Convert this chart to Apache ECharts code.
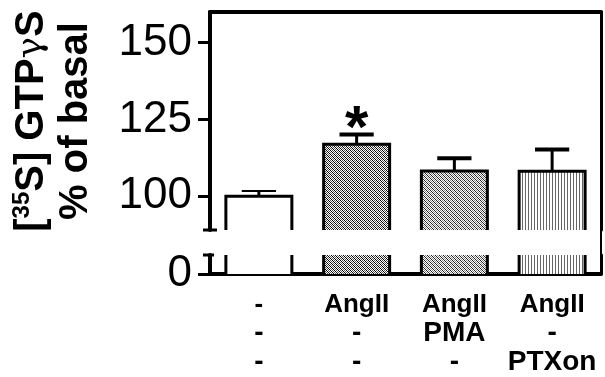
<!DOCTYPE html>
<html>
<head>
<meta charset="utf-8">
<script src="https://cdn.jsdelivr.net/npm/echarts@6/dist/echarts.min.js"></script>
<style>
  html, body { margin: 0; padding: 0; background: #fff; }
  #gtp-graph { width: 605px; height: 377px; }
</style>
</head>
<body>
<div id="gtp-graph"></div>
<script>
  // data
  const categories = ['-\n-\n-', 'AngII\n-\n-', 'AngII\nPMA\n-', 'AngII\n-\nPTXon'];
  const means = [100, 116.9, 108.2, 108.1];
  const errors = [1.7, 3.2, 4.2, 7.1];
  const marks = ['', '*', '', ''];
  const upperTicks = [100, 125, 150];
  const lowerTicks = [0];

  // layout of the broken axis
  const GRID_LEFT = 210, GRID_RIGHT = 4;
  const UPPER_TOP = 12, UPPER_H = 218, UPPER_MIN = 89, UPPER_MAX = 160;
  const LOWER_TOP = 255, LOWER_H = 19, LOWER_MAX = 6.2;
  const FONT = 'Liberation Sans, Arial, sans-serif';

  function makePattern(rows, palette) {
    const c = document.createElement('canvas');
    c.width = rows[0].length;
    c.height = rows.length;
    const ctx = c.getContext('2d');
    rows.forEach((row, y) => {
      for (let x = 0; x < row.length; x++) {
        ctx.fillStyle = palette[row[x]];
        ctx.fillRect(x, y, 1, 1);
      }
    });
    return { image: c, repeat: 'repeat' };
  }

  const diagRows = ['BWGW', 'WBWG', 'GWBW', 'WGWB'];
  const fills = [
    '#ffffff',
    makePattern(diagRows, { B: '#000', G: '#555', W: '#fff' }),
    makePattern(diagRows, { B: '#222', G: '#888', W: '#fff' }),
    makePattern(['GWW'], { G: '#666', W: '#fff' })
  ];
  const errWidths = [2, 4, 4, 4];

  const chart = echarts.init(document.getElementById('gtp-graph'));

  function renderBar(params, api) {
    const i = api.value(0);
    const top = api.coord([i, api.value(1)]);
    const base = api.coord([i, 0]);
    const w = api.size([1, 0])[0] * 0.675;
    const x0 = top[0] - w / 2, x1 = top[0] + w / 2;
    return {
      type: 'group',
      children: [{
        type: 'rect',
        shape: { x: x0, y: top[1], width: w, height: base[1] - top[1] },
        style: { fill: fills[i] }
      }, {
        type: 'polyline',
        shape: { points: [[x0, base[1]], [x0, top[1]], [x1, top[1]], [x1, base[1]]] },
        style: { fill: null, stroke: '#000', lineWidth: 3 }
      }]
    };
  }

  function renderErr(params, api) {
    const i = api.value(0);
    const m = api.value(1), e = api.value(2);
    const p0 = api.coord([i, m]);
    const p1 = api.coord([i, m + e]);
    const cap = api.size([1, 0])[0] * 0.35;
    return {
      type: 'group',
      children: [{
        type: 'line',
        shape: { x1: p0[0], y1: p0[1], x2: p1[0], y2: p1[1] },
        style: { stroke: '#000', lineWidth: 3 }
      }, {
        type: 'line',
        shape: { x1: p1[0] - cap / 2, y1: p1[1], x2: p1[0] + cap / 2, y2: p1[1] },
        style: { stroke: '#000', lineWidth: errWidths[i] }
      }, {
        type: 'text',
        style: {
          x: p1[0], y: p1[1] - 4, text: marks[i],
          align: 'center', verticalAlign: 'middle',
          font: 'bold 60px ' + FONT, fill: '#000'
        }
      }]
    };
  }

  const noSplit = { show: false };
  chart.setOption({
    animation: false,
    grid: [
      { left: GRID_LEFT, right: GRID_RIGHT, top: UPPER_TOP, height: UPPER_H },
      { left: GRID_LEFT, right: GRID_RIGHT, top: LOWER_TOP, height: LOWER_H }
    ],
    xAxis: [{
      gridIndex: 0, type: 'category', data: categories, position: 'top',
      axisLine: { onZero: false, lineStyle: { color: '#000', width: 4 } },
      axisTick: { show: false }, axisLabel: { show: false }
    }, {
      gridIndex: 1, type: 'category', data: categories, position: 'bottom',
      axisLine: { onZero: false, lineStyle: { color: '#000', width: 4 } },
      axisTick: { show: false },
      axisLabel: {
        interval: 0, margin: 16, color: '#000', fontWeight: 'bold',
        fontFamily: FONT, lineHeight: 29,
        formatter: v => v.split('\n').map((s, k) => (k === 0 ? '{a|' : '{b|') + s + '}').join('\n'),
        rich: {
          a: { fontSize: 26, fontWeight: 'bold', fontFamily: FONT, color: '#000', lineHeight: 29 },
          b: { fontSize: 28, fontWeight: 'bold', fontFamily: FONT, color: '#000', lineHeight: 29 }
        }
      }
    }],
    yAxis: [{
      gridIndex: 0, type: 'value', min: UPPER_MIN, max: UPPER_MAX,
      axisLine: { show: true, onZero: false, lineStyle: { color: '#000', width: 4 } },
      axisTick: { show: true, length: 12, customValues: upperTicks, lineStyle: { color: '#000', width: 3 } },
      axisLabel: {
        customValues: upperTicks, margin: 18, color: '#000', fontSize: 44, fontFamily: FONT,
        padding: [8, 0, 0, 0]
      },
      splitLine: noSplit,
      name: '[{sup|35}S] GTP{g|γ}S\n% of basal',
      nameLocation: 'middle', nameRotate: 90, nameGap: 112,
      nameTextStyle: {
        color: '#000', fontSize: 40, fontWeight: 'bold', fontFamily: FONT, lineHeight: 44,
        rich: {
          sup: { fontSize: 24, fontWeight: 'bold', fontFamily: FONT, verticalAlign: 'top', color: '#000' },
          g: { fontSize: 36, fontWeight: 'normal', fontFamily: 'DejaVu Serif', color: '#000' }
        }
      }
    }, {
      gridIndex: 0, type: 'value', position: 'right', min: UPPER_MIN, max: UPPER_MAX,
      axisLine: { show: true, onZero: false, lineStyle: { color: '#000', width: 3 } },
      axisTick: { show: false }, axisLabel: { show: false }, splitLine: noSplit
    }, {
      gridIndex: 1, type: 'value', min: 0, max: LOWER_MAX,
      axisLine: { show: true, onZero: false, lineStyle: { color: '#000', width: 4 } },
      axisTick: { show: true, length: 12, customValues: lowerTicks, lineStyle: { color: '#000', width: 3 } },
      axisLabel: {
        customValues: lowerTicks, margin: 18, color: '#000', fontSize: 44, fontFamily: FONT,
        padding: [8, 0, 0, 0]
      },
      splitLine: noSplit
    }, {
      gridIndex: 1, type: 'value', position: 'right', min: 0, max: LOWER_MAX,
      axisLine: { show: true, onZero: false, lineStyle: { color: '#000', width: 3 } },
      axisTick: { show: false }, axisLabel: { show: false }, splitLine: noSplit
    }],
    series: [{
      type: 'custom', xAxisIndex: 0, yAxisIndex: 0, clip: true,
      renderItem: renderBar, data: means.map((m, i) => [i, m])
    }, {
      type: 'custom', xAxisIndex: 1, yAxisIndex: 2, clip: true,
      renderItem: renderBar, data: means.map((m, i) => [i, m])
    }, {
      type: 'custom', xAxisIndex: 0, yAxisIndex: 0, clip: false,
      renderItem: renderErr, data: means.map((m, i) => [i, m, errors[i]])
    }]
  });

  // break marks on the left axis and the right frame across the gap
  const yBreakTop = chart.convertToPixel({ yAxisIndex: 0 }, UPPER_MIN);
  const yBreakBot = chart.convertToPixel({ yAxisIndex: 2 }, LOWER_MAX);
  const xRight = 605 - GRID_RIGHT;
  chart.setOption({
    graphic: [
      { type: 'line', shape: { x1: GRID_LEFT - 7, y1: yBreakTop, x2: GRID_LEFT + 7, y2: yBreakTop }, style: { stroke: '#000', lineWidth: 3 } },
      { type: 'line', shape: { x1: GRID_LEFT - 7, y1: yBreakBot, x2: GRID_LEFT + 4, y2: yBreakBot }, style: { stroke: '#000', lineWidth: 3 } },
      { type: 'line', shape: { x1: xRight, y1: yBreakTop, x2: xRight, y2: yBreakBot }, style: { stroke: '#000', lineWidth: 2 } }
    ]
  });
</script>
</body>
</html>
